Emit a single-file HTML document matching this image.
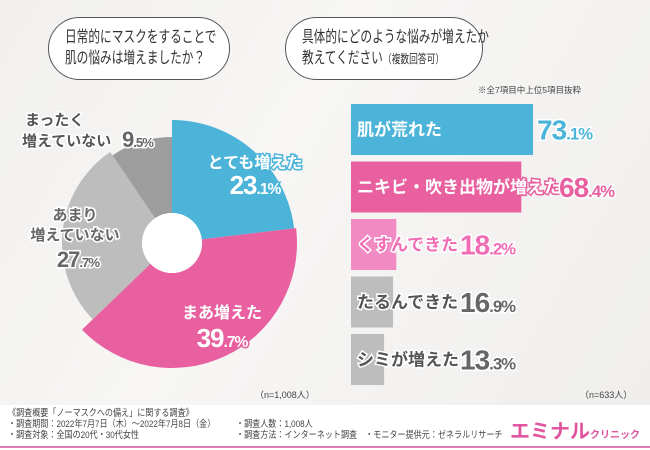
<!DOCTYPE html>
<html><head><meta charset="utf-8">
<style>
body{margin:0;width:650px;height:450px;overflow:hidden;font-family:"Liberation Sans","Noto Sans CJK JP",sans-serif;}
#root{position:relative;width:650px;height:450px;background:linear-gradient(120deg,#f1f0ee 0%,#f7f6f5 40%,#efeeec 100%);}
.pill{position:absolute;border:1.3px solid #555;border-radius:40px;background:#fff;color:#333;box-sizing:border-box;padding:9px 0 0 16px;white-space:nowrap;}
.pill span.in{display:inline-block;font-size:16px;line-height:21px;transform:scaleX(0.73);transform-origin:0 0;}
.foot{position:absolute;left:0;top:405px;width:650px;height:45px;background:#fff;}
.ft{position:absolute;font-size:9.5px;color:#444;line-height:11px;white-space:nowrap;transform:scaleX(0.85);transform-origin:0 0;}
</style></head><body>
<div id="root">
<div class="pill" style="left:48px;top:17px;width:182px;height:63px;"><span class="in">日常的にマスクをすることで<br>肌の悩みは増えましたか？</span></div>
<div class="pill" style="left:285px;top:17px;width:198px;height:63px;"><span class="in">具体的にどのような悩みが増えたか<br>教えてください<span style="font-size:12px">（複数回答可）</span></span></div>
<div style="position:absolute;left:478px;top:84px;font-size:8.5px;color:#444;white-space:nowrap;">※全7項目中上位5項目抜粋</div>
<svg id="chart" width="650" height="450" style="position:absolute;left:0;top:0"></svg>
<div style="position:absolute;left:255px;top:388px;font-size:9px;color:#444;">（n=1,008人）</div>
<div style="position:absolute;left:580px;top:388px;font-size:9px;color:#444;">（n=633人）</div>
<div class="foot">
<div class="ft" style="left:8px;top:3px;">《調査概要「ノーマスクへの備え」に関する調査》<br>・調査期間：2022年7月7日（木）～2022年7月8日（金）<br>・調査対象：全国の20代・30代女性</div>
<div class="ft" style="left:236px;top:14px;">・調査人数：1,008人<br>・調査方法：インターネット調査　・モニター提供元：ゼネラルリサーチ</div>
<div style="position:absolute;left:510px;top:10px;color:#e0569e;font-size:20px;font-weight:bold;white-space:nowrap;">エミナル<span style="font-size:10px">クリニック</span></div>
<div style="position:absolute;left:0;top:41px;width:650px;height:2px;background:#e07ab8;"></div>
</div>
</div>
<script>
const pieLabels=["とても増えた","まあ増えた","あまり増えていない","まったく増えていない"];
const pieValues=[23.1,39.7,27.7,9.5];
const barLabels=["肌が荒れた","ニキビ・吹き出物が増えた","くすんできた","たるんできた","シミが増えた"];
const barValues=[73.1,68.4,18.2,16.9,13.3];
const svg=document.getElementById('chart');
const NS='http://www.w3.org/2000/svg';
function mk(t,a){const e=document.createElementNS(NS,t);for(const k in a)e.setAttribute(k,a[k]);svg.appendChild(e);return e;}
const cx=172,cy=243,hole=30;
const radii=[123,125,110,106];
const pcol=["#4cb4d9","#e8609f","#bdbdbd","#9d9d9d"];
let tot=pieValues.reduce((a,b)=>a+b,0),acc=0;
pieValues.forEach((v,i)=>{
  const a0=acc/tot*2*Math.PI,a1=(acc+v)/tot*2*Math.PI;acc+=v;
  const r=radii[i];
  const p=(a,rr)=>[cx+rr*Math.sin(a),cy-rr*Math.cos(a)];
  const [x0,y0]=p(a0,r),[x1,y1]=p(a1,r),[h1x,h1y]=p(a1,hole),[h0x,h0y]=p(a0,hole);
  const lg=(a1-a0)>Math.PI?1:0;
  const e=mk('path',{d:`M${x0},${y0}A${r},${r} 0 ${lg} 1 ${x1},${y1}L${h1x},${h1y}A${hole},${hole} 0 ${lg} 0 ${h0x},${h0y}Z`,fill:pcol[i]});
  
  
});
mk('circle',{cx:cx,cy:cy,r:hole,fill:'#fff'});
function val(x,y,v,fill,stroke,size,anchor){
  const t=mk('text',{x:x,y:y,fill:fill,'font-size':size,'font-weight':'bold','text-anchor':anchor||'start','font-family':'"Liberation Sans",sans-serif',stroke:stroke||'none','stroke-width':stroke?3:0,'paint-order':'stroke','letter-spacing':-1});
  const s=v.toFixed(1).split('.');
  t.innerHTML=s[0]+'<tspan font-size="'+(size*0.6)+'">.'+s[1]+'%</tspan>';
  
  
  return t;
}
function lab(x,y,s,fill,stroke,size,anchor){
  const t=mk('text',{x:x,y:y,fill:fill,'font-size':size,'font-weight':'bold','text-anchor':anchor||'start','font-family':'"Liberation Sans","Noto Sans CJK JP",sans-serif',stroke:stroke||'none','stroke-width':stroke?3:0,'paint-order':'stroke'});
  t.textContent=s;
  
  
  return t;
}
lab(255,168,pieLabels[0],'#fff','#4cb4d9',16,'middle');val(255,194,pieValues[0],'#fff','#4cb4d9',26,'middle');
lab(222,318,pieLabels[1],'#fff','#e8609f',16,'middle');val(222,347,pieValues[1],'#fff','#e8609f',26,'middle');
lab(75,220,'あまり','#666','#fff',15,'middle');lab(75,240,'増えていない','#666','#fff',15,'middle');val(78,267,pieValues[2],'#666','#fff',22,'middle');
lab(25,125,'まったく','#555','#fff',15);lab(22,146,'増えていない','#555','#fff',15);val(122,147,pieValues[3],'#666','#fff',22);
const bx=351,by0=104,bh=51,bstep=57.5,sc=2.49;
const bcol=["#4cb4d9","#e8609f","#f28ac4","#bdbdbd","#bdbdbd"];
const lcol=["#fff","#fff","#f06cb4","#555","#555"];
const vcol=["#4cb4d9","#e8609f","#f06cb4","#666","#666"];
barValues.forEach((v,i)=>{
  const y=by0+i*bstep,w=v*sc;
  const r=mk('rect',{x:bx,y:y,width:w,height:bh,fill:bcol[i]});
  
  
  const lw=barLabels[i].length*16.5;
  lab(bx+6,y+bh/2+6,barLabels[i],lcol[i],i<2?bcol[i]:'#fff',17);
  val(Math.max(bx+w,bx+6+lw)+4,y+bh/2+10,v,vcol[i],'#fff',28);
});
</script>
</body></html>
